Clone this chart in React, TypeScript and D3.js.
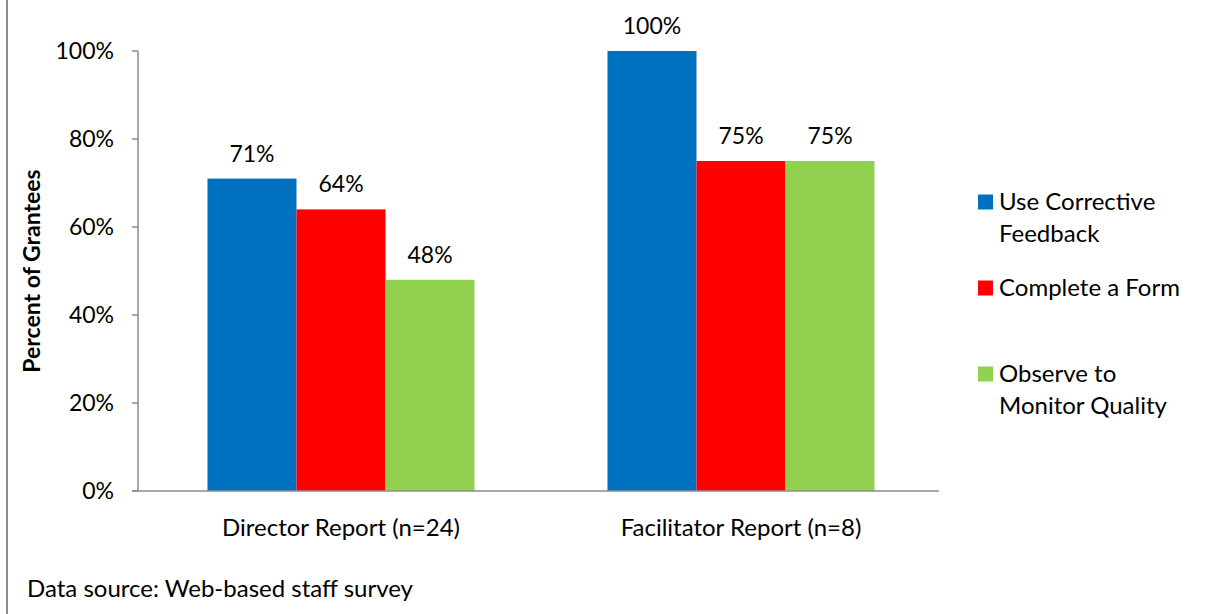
import * as d3 from "d3";
import React from "react";

const groups = ["Director Report (n=24)", "Facilitator Report (n=8)"];
const seriesNames = ["Use Corrective Feedback", "Complete a Form", "Observe to Monitor Quality"];
const legendLines = [["Use Corrective", "Feedback"], ["Complete a Form"], ["Observe to", "Monitor Quality"]];
const colors = ["#0070C0", "#FF0000", "#92D050"];
const director = [71, 64, 48];
const facilitator = [100, 75, 75];
const yTicks = [0, 20, 40, 60, 80, 100];

const values = [director, facilitator];
const font = "Lato, 'Open Sans', sans-serif";

const App: React.FC = () => {
    const W = 1205, H = 614;
    const x0 = d3.scaleBand<string>().domain(groups).range([141, 941]).padding(0);
    const x1 = d3.scaleBand<string>().domain(seriesNames).range([0, x0.bandwidth()]).paddingInner(0).paddingOuter(0.747);
    const y = d3.scaleLinear().domain([0, 100]).range([491, 51]);
    const legendY = [202, 288, 374];

    return (
        <svg width={W} height={H} style={{ position: "absolute", left: 0, top: 0 }} fontFamily={font}>
            <rect width={W} height={H} fill="#fff" />
            <line x1={7} x2={7} y1={0} y2={H} stroke="#8c8c8c" strokeWidth={2} />

            {/* y axis */}
            <line x1={138} x2={138} y1={y(100)} y2={y(0)} stroke="#8c8c8c" strokeWidth={1.5} />
            {yTicks.map(t => (
                <g key={t}>
                    <line x1={132} x2={138} y1={y(t)} y2={y(t)} stroke="#8c8c8c" strokeWidth={1.5} />
                    <text x={114} y={y(t)} dy="0.35em" textAnchor="end" fontSize={23} fill="#000">{t}%</text>
                </g>
            ))}
            <text transform="translate(40,271) rotate(-90)" textAnchor="middle" fontSize={23} fontWeight="bold">Percent of Grantees</text>

            {/* bars */}
            {groups.map((g, gi) => (
                <g key={g} transform={`translate(${x0(g)},0)`}>
                    {seriesNames.map((s, si) => {
                        const v = values[gi][si];
                        const bx = x1(s)!;
                        return (
                            <g key={s}>
                                <rect x={bx} y={y(v)} width={x1.bandwidth()} height={y(0) - y(v)} fill={colors[si]} />
                                <text x={bx + x1.bandwidth() / 2} y={y(v) - 25} dy="0.35em" textAnchor="middle" fontSize={23}>{v}%</text>
                            </g>
                        );
                    })}
                    <text x={x0.bandwidth() / 2} y={528} dy="0.35em" textAnchor="middle" fontSize={24}>{g}</text>
                </g>
            ))}

            {/* x axis */}
            <line x1={132} x2={939} y1={y(0)} y2={y(0)} stroke="#8c8c8c" strokeWidth={1.5} />

            {/* legend */}
            {seriesNames.map((s, i) => (
                <g key={s}>
                    <rect x={978} y={legendY[i] - 7.5} width={15} height={15} fill={colors[i]} />
                    {legendLines[i].map((ln, li) => (
                        <text key={li} x={999} y={legendY[i] + li * 32} dy="0.35em" fontSize={24}>{ln}</text>
                    ))}
                </g>
            ))}

            <text x={27} y={589} dy="0.35em" fontSize={24}>Data source: Web-based staff survey</text>
        </svg>
    );
};

export default App;
